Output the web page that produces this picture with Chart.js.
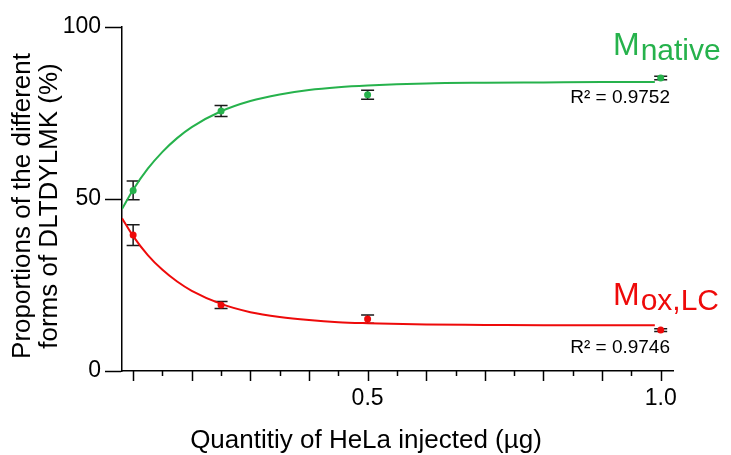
<!DOCTYPE html>
<html>
<head>
<meta charset="utf-8">
<title>HeLa oxidation</title>
<script src="https://cdn.jsdelivr.net/npm/chart.js@4.4.1/dist/chart.umd.min.js"></script>
<style>
html, body { margin: 0; padding: 0; background: #fff; }
</style>
</head>
<body>
<canvas id="mycanvas" width="731" height="455"></canvas>
<script>
// measured proportions (%) per amount of HeLa injected (ug)
var doses = [0.1, 0.25, 0.5, 1.0];
var nativeMean = [52.5, 75.6, 80.3, 85.2];
var nativeErr = [2.7, 1.6, 1.3, 0.5];
var oxMean = [39.5, 19.2, 15.1, 11.9];
var oxErr = [3.0, 1.0, 1.2, 0.4];

// fitted curves, read along the x range
var fitX = [0.081, 0.1, 0.125, 0.15, 0.175, 0.2, 0.25, 0.3, 0.35, 0.4, 0.45, 0.5, 0.6, 0.7, 0.8, 0.9, 0.99];
var nativeFit = [47.1, 52.7, 58.8, 63.7, 67.7, 70.9, 75.5, 78.5, 80.4, 81.7, 82.5, 83.0, 83.6, 83.8, 83.9, 84.0, 84.0];
var oxFit = [44.4, 39.2, 33.7, 29.4, 26.0, 23.3, 19.5, 17.1, 15.7, 14.8, 14.2, 13.9, 13.5, 13.4, 13.3, 13.3, 13.3];

var xTickLabels = [0.5, 1.0];
var yTickLabels = [0, 50, 100];
var r2Native = 'R\u00b2 = 0.9752';
var r2Ox = 'R\u00b2 = 0.9746';

var green = 'rgb(38,178,76)';
var red = 'rgb(238,10,10)';
var FONT = '"Liberation Sans", Arial, sans-serif';

Chart.defaults.font.family = FONT;
Chart.defaults.color = '#000';

function pts(xs, ys) {
	return xs.map(function(x, i) { return {x: x, y: ys[i]}; });
}

var extras = {
	id: 'extras',
	beforeDatasetsDraw: function(chart) {
		var ctx = chart.ctx;
		var xs = chart.scales.x, ys = chart.scales.y;
		ctx.save();
		ctx.strokeStyle = '#1a1a1a';
		ctx.lineWidth = 1.5;
		[[nativeMean, nativeErr], [oxMean, oxErr]].forEach(function(s) {
			for (var i = 0; i < doses.length; i++) {
				var px = xs.getPixelForValue(doses[i]);
				var hi = ys.getPixelForValue(s[0][i] + s[1][i]);
				var lo = ys.getPixelForValue(s[0][i] - s[1][i]);
				ctx.beginPath();
				ctx.moveTo(px, hi); ctx.lineTo(px, lo);
				ctx.moveTo(px - 6.5, hi); ctx.lineTo(px + 6.5, hi);
				ctx.moveTo(px - 6.5, lo); ctx.lineTo(px + 6.5, lo);
				ctx.stroke();
			}
		});
		ctx.restore();
	},
	afterDraw: function(chart) {
		var ctx = chart.ctx;
		var xs = chart.scales.x;
		var area = chart.chartArea;
		ctx.save();
		// minor / major tick marks on the x axis
		ctx.strokeStyle = '#000';
		ctx.lineWidth = 1.5;
		for (var k = 2; k <= 20; k++) {
			var px = Math.round(xs.getPixelForValue(k * 0.05)) + 0.5;
			ctx.beginPath();
			ctx.moveTo(px, area.bottom);
			ctx.lineTo(px, area.bottom + (k % 2 === 0 ? 10 : 5));
			ctx.stroke();
		}

		ctx.fillStyle = '#000';
		ctx.textAlign = 'center';
		ctx.textBaseline = 'alphabetic';
		ctx.font = '26px ' + FONT;
		ctx.fillText('Quantitiy of HeLa injected (\u00b5g)', 366, 448);

		ctx.save();
		ctx.translate(0, 206);
		ctx.rotate(-Math.PI / 2);
		ctx.textBaseline = 'middle';
		ctx.fillText('Proportions of the different', 0, 23);
		ctx.fillText('forms of DLTDYLMK (%)', 0, 50);
		ctx.restore();

		// R squared of each fit
		ctx.textAlign = 'right';
		ctx.font = '19px ' + FONT;
		ctx.fillText(r2Native, 670, 103);
		ctx.fillText(r2Ox, 670, 353);

		// series names with subscripts
		ctx.textAlign = 'left';
		function named(base, sub, x, y, color) {
			ctx.fillStyle = color;
			ctx.font = '32px ' + FONT;
			ctx.fillText(base, x, y);
			var w = ctx.measureText(base).width;
			ctx.font = '30px ' + FONT;
			ctx.fillText(sub, x + w + 1, y + 5);
		}
		named('M', 'native', 613, 55, green);
		named('M', 'ox,LC', 613, 305, red);
		ctx.restore();
	}
};

var ctx = document.getElementById('mycanvas');

var chart = new Chart(ctx, {
	type: 'scatter',
	data: {
		datasets: [
			{
				data: pts(fitX, nativeFit),
				showLine: true,
				borderColor: green,
				borderWidth: 2,
				pointRadius: 0,
				cubicInterpolationMode: 'monotone'
			},
			{
				data: pts(fitX, oxFit),
				showLine: true,
				borderColor: red,
				borderWidth: 2,
				pointRadius: 0,
				cubicInterpolationMode: 'monotone'
			},
			{
				data: pts(doses, nativeMean),
				pointRadius: 3.5,
				pointBackgroundColor: green,
				pointBorderWidth: 0
			},
			{
				data: pts(doses, oxMean),
				pointRadius: 3.5,
				pointBackgroundColor: red,
				pointBorderWidth: 0
			}
		]
	},
	options: {
		responsive: false,
		animation: false,
		layout: { padding: { left: 0, right: 58, top: 27, bottom: 0 } },
		plugins: { legend: { display: false }, tooltip: { enabled: false } },
		scales: {
			x: {
				type: 'linear',
				min: 0.081,
				max: 1.021,
				afterBuildTicks: function(s) { s.ticks = xTickLabels.map(function(v) { return {value: v}; }); },
				afterFit: function(s) { s.height = 84; },
				ticks: {
					font: { size: 23 },
					color: '#000',
					padding: 4,
					autoSkip: false,
					maxRotation: 0,
					callback: function(v) { return v.toFixed(1); }
				},
				grid: { display: false, drawTicks: true, tickLength: 10 },
				border: { display: true, color: '#000', width: 1.5 }
			},
			y: {
				min: 0,
				max: 100,
				afterBuildTicks: function(s) { s.ticks = yTickLabels.map(function(v) { return {value: v}; }); },
				afterFit: function(s) { s.width = 122; },
				ticks: { font: { size: 23 }, color: '#000', padding: 4 },
				grid: { display: true, drawOnChartArea: false, drawTicks: true, tickLength: 17, tickColor: '#000', tickWidth: 1.5 },
				border: { display: true, color: '#000', width: 1.5 }
			}
		}
	},
	plugins: [extras]
});
</script>
</body>
</html>
